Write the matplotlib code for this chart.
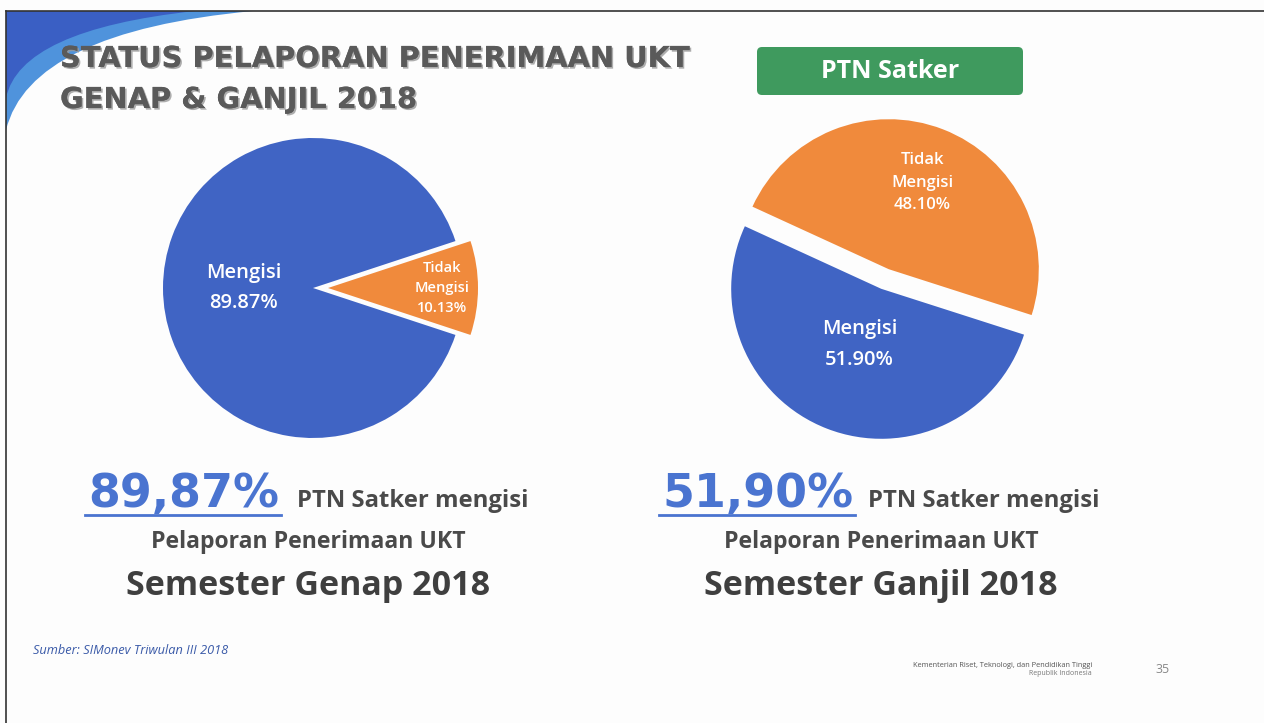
import numpy as np
import matplotlib.pyplot as plt
from matplotlib.patches import FancyBboxPatch, PathPatch
from matplotlib.path import Path
import matplotlib.patheffects as pe

# data
labels_genap = ["Mengisi", "Tidak\nMengisi"]
values_genap = [89.87, 10.13]
labels_ganjil = ["Tidak\nMengisi", "Mengisi"]
values_ganjil = [48.10, 51.90]
semesters = ["Semester Genap 2018", "Semester Ganjil 2018"]
headline = [values_genap[0], values_ganjil[1]]

BLUE = "#4064c4"
ORANGE = "#f08a3c"
GRAY = "#4a4a4a"
W, H = 1264, 723

plt.rcParams["font.family"] = ["Open Sans", "DejaVu Sans"]

fig = plt.figure(figsize=(W / 100, H / 100), dpi=100)
fig.patch.set_facecolor("#fdfdfd")

# background axes in pixel coordinates (y down)
bg = fig.add_axes([0, 0, 1, 1])
bg.set_xlim(0, W)
bg.set_ylim(H, 0)
bg.axis("off")

# blue swoosh in the corner
light = Path([(6, 11), (253, 11), (30, 32), (6, 130), (6, 11)],
             [Path.MOVETO, Path.LINETO, Path.CURVE3, Path.CURVE3, Path.CLOSEPOLY])
dark = Path([(6, 11), (195, 11), (20, 30), (6, 98), (6, 11)],
            [Path.MOVETO, Path.LINETO, Path.CURVE3, Path.CURVE3, Path.CLOSEPOLY])
bg.add_patch(PathPatch(light, facecolor="#4f93dc", edgecolor="none"))
bg.add_patch(PathPatch(dark, facecolor="#3a5fc4", edgecolor="none"))

# slide frame
bg.plot([6, W], [11, 11], color="#333333", lw=1.2)
bg.plot([6, 6], [11, H], color="#333333", lw=1.2)

# title
shadow = [pe.withSimplePatchShadow(offset=(1.2, -1.2), shadow_rgbFace="#999999", alpha=0.8), pe.Normal()]
for y, line in [(67, "STATUS PELAPORAN PENERIMAAN UKT"), (108, "GENAP & GANJIL 2018")]:
    bg.text(60, y, line, fontsize=20.8, fontweight="bold", color="#5a5a5a",
            family="DejaVu Sans", va="baseline", path_effects=shadow)

# green badge
bg.add_patch(FancyBboxPatch((757, 47), 266, 48, boxstyle="round,pad=0,rounding_size=5",
                            facecolor="#3f9a5e", edgecolor="none"))
bg.text(890, 72, "PTN Satker", fontsize=18, fontweight="bold", color="white",
        ha="center", va="center")


def draw_pie(cx, cy, values, labels, colors, startangle, explode, dists, sizes, spacing):
    r = 150
    ax = fig.add_axes([(cx - 1.25 * r) / W, (H - cy - 1.25 * r) / H, 2.5 * r / W, 2.5 * r / H])
    wedges, _ = ax.pie(values, colors=colors, startangle=startangle, explode=explode,
                       wedgeprops=dict(linewidth=0))
    for w, lab, v, d, s, sp in zip(wedges, labels, values, dists, sizes, spacing):
        mid = np.deg2rad((w.theta1 + w.theta2) / 2)
        x = w.center[0] + d * w.r * np.cos(mid)
        y = w.center[1] + d * w.r * np.sin(mid)
        ax.text(x, y, f"{lab}\n{v:.2f}%", ha="center", va="center", color="white",
                fontsize=s, fontweight="semibold", linespacing=sp)
    return ax


draw_pie(313, 288, values_genap, labels_genap, [BLUE, ORANGE], 180 * values_genap[1] / 100,
         [0, 0.1], [0.46, 0.76], [14.5, 10.5], [1.65, 1.55])
draw_pie(885, 279, values_ganjil, labels_ganjil, [ORANGE, BLUE], -17.8,
         [0.07, 0.07], [0.62, 0.4], [12, 14.5], [1.55, 1.7])

# bottom captions
fig.canvas.draw()
renderer = fig.canvas.get_renderer()
inv = bg.transData.inverted()
for x0, xs, xc, v, sem in [(88, 297, 308, headline[0], semesters[0]),
                            (662, 868, 881, headline[1], semesters[1])]:
    t = bg.text(x0, 507, f"{v:.2f}%".replace(".", ","), fontsize=33, fontweight="bold",
                color="#4a74d0", family="DejaVu Sans", va="baseline")
    bb = t.get_window_extent(renderer)
    (xa, _), (xb, _) = inv.transform([(bb.x0, 0), (bb.x1, 0)])
    bg.plot([xa - 3, xb + 2], [515, 515], color="#4a74d0", lw=2)
    bg.text(xs, 507, "PTN Satker mengisi", fontsize=17.2, fontweight="bold", color=GRAY,
            va="baseline")
    bg.text(xc, 548, "Pelaporan Penerimaan UKT", fontsize=16.6, fontweight="bold", color=GRAY,
            ha="center", va="baseline")
    bg.text(xc, 595, sem, fontsize=24.5, fontweight="bold", color="#3f3f3f",
            ha="center", va="baseline")

# footer
bg.text(33, 654, "Sumber: SIMonev Triwulan III 2018", fontsize=9.2, style="italic",
        color="#3a5aa8", va="baseline")
bg.text(1092, 667, "Kementerian Riset, Teknologi, dan Pendidikan Tinggi", fontsize=5.3,
        color="#555555", ha="right", va="baseline")
bg.text(1092, 675, "Republik Indonesia", fontsize=5, color="#777777", ha="right",
        va="baseline")
bg.text(1155, 673, "35", fontsize=9, color="#888888", va="baseline")

fig.savefig("out.png", dpi=100, facecolor=fig.get_facecolor())
